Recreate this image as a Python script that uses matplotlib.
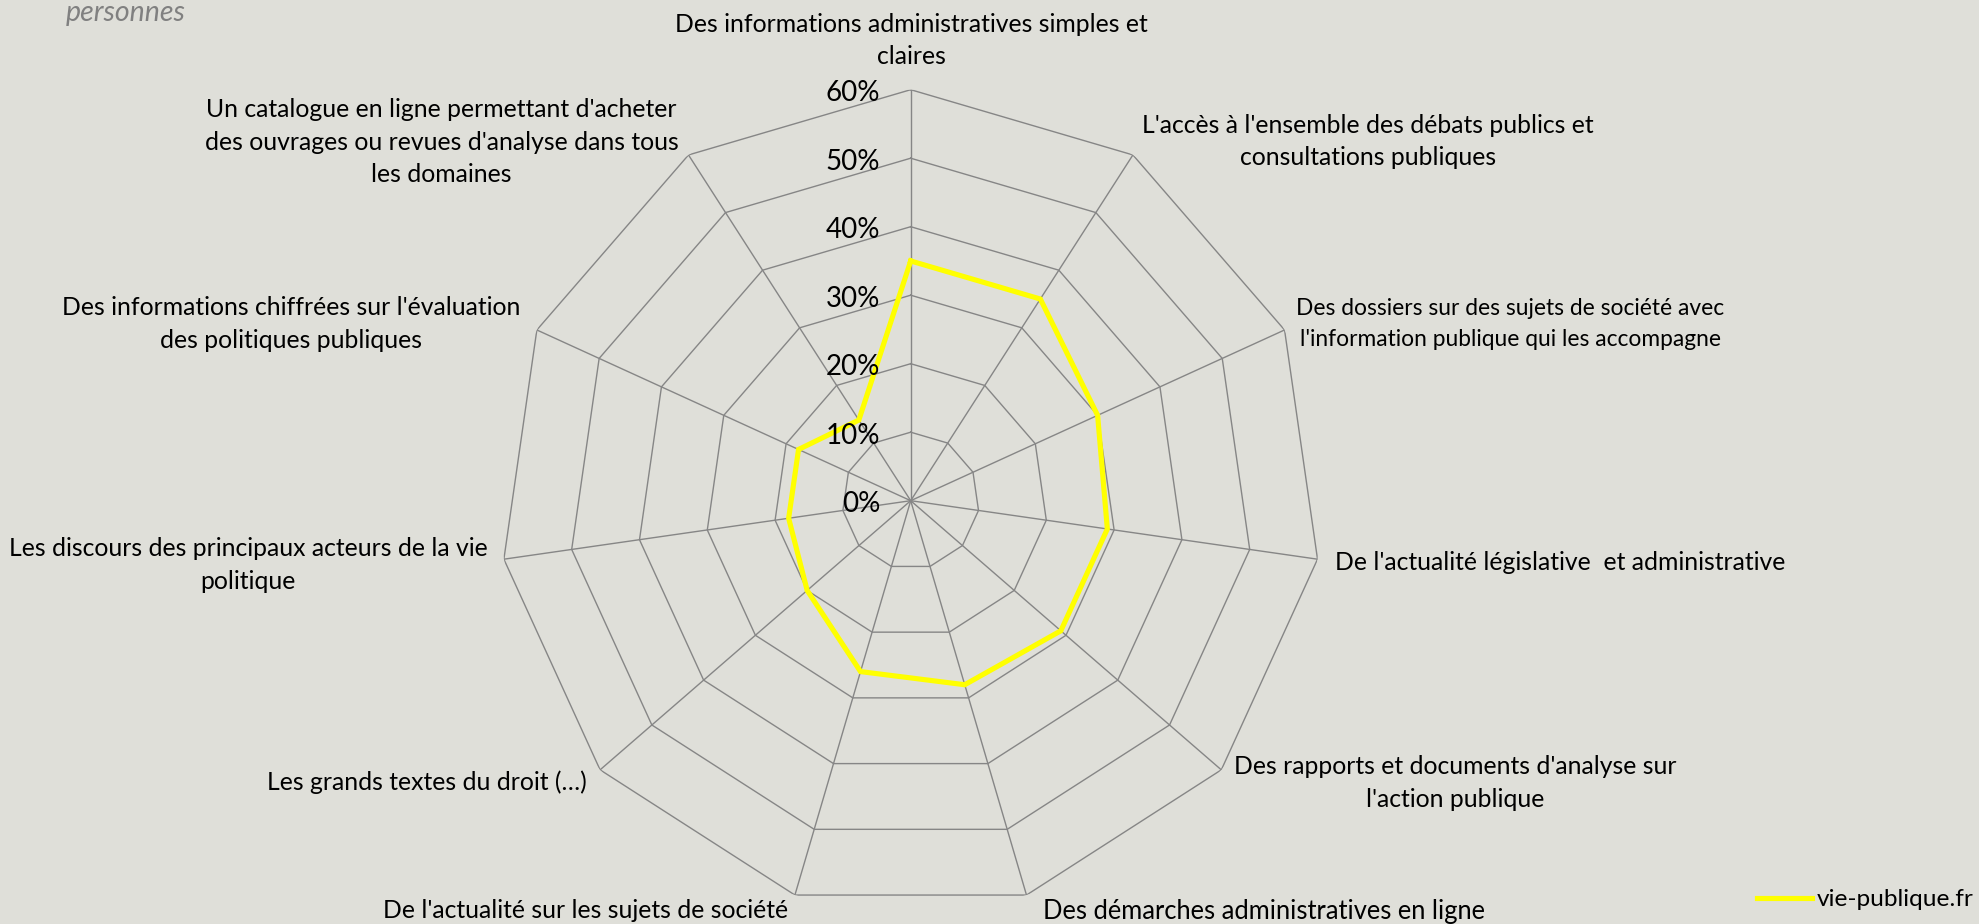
import numpy as np
import matplotlib
matplotlib.use("Agg")
import matplotlib.pyplot as plt

plt.rcParams['font.family'] = ['Lato', 'DejaVu Sans']

# ---- data ----
categories = [
    "Des informations administratives simples et\nclaires",
    "L'accès à l'ensemble des débats publics et\nconsultations publiques",
    "Des dossiers sur des sujets de société avec\nl'information publique qui les accompagne",
    "De l'actualité législative  et administrative",
    "Des rapports et documents d'analyse sur\nl'action publique",
    "Des démarches administratives en ligne",
    "De l'actualité sur les sujets de société",
    "Les grands textes du droit (…)",
    "Les discours des principaux acteurs de la vie\npolitique",
    "Des informations chiffrées sur l'évaluation\ndes politiques publiques",
    "Un catalogue en ligne permettant d'acheter\ndes ouvrages ou revues d'analyse dans tous\nles domaines",
]
values = [0.35, 0.35, 0.30, 0.29, 0.29, 0.28, 0.26, 0.20, 0.18, 0.18, 0.14]
series_name = "vie-publique.fr"
ring_levels = [0.0, 0.1, 0.2, 0.3, 0.4, 0.5, 0.6]
ring_labels = ["0%", "10%", "20%", "30%", "40%", "50%", "60%"]

# label centres in pixels (x, y from top) of a 1979x924 canvas
label_pos = [(911, 40.5), (1368, 141.5), (1510, 324), (1560.5, 562),
             (1455, 783), (1264, 911), (585.6, 911), (426.6, 782),
             (248, 565), (291.5, 324), (441.7, 142)]
label_sizes = [17.8, 17.8, 16.4, 17.8, 17.8, 18.4, 17.8, 17.8, 17.8, 17.8, 17.8]

W, H = 1979, 924
BG = "#DFDFD9"
GRID = "#868686"
YELLOW = "#FFFF00"

fig = plt.figure(figsize=(W / 100, H / 100), dpi=100, facecolor=BG)
cx, cy, R = 910.7, 500.7, 411.0
ax = fig.add_axes([(cx - R) / W, (H - cy - R) / H, 2 * R / W, 2 * R / H],
                  projection='polar')
ax.set_theta_zero_location('N')
ax.set_theta_direction(-1)
ax.set_ylim(0, 0.6)
ax.axis('off')

n = len(categories)
theta = np.arange(n) * 2 * np.pi / n
theta_closed = np.append(theta, theta[0])

for r in ring_levels[1:]:
    ax.plot(theta_closed, [r] * (n + 1), color=GRID, lw=1.0, zorder=1)
for t in theta:
    ax.plot([t, t], [0, ring_levels[-1]], color=GRID, lw=1.0, zorder=1)

vals_closed = values + values[:1]
ax.plot(theta_closed, vals_closed, color=YELLOW, lw=3.7, zorder=3,
        solid_joinstyle='miter')

for r, lab in zip(ring_levels, ring_labels):
    ax.annotate(lab, xy=(0, r), xytext=(-22, -2.5), textcoords='offset points',
                ha='right', va='center', fontsize=20, color='black', zorder=4)

for lab, (x, y), fs in zip(categories, label_pos, label_sizes):
    fig.text(x / W, 1 - y / H, lab, ha='center', va='center', fontsize=fs,
             color='black', linespacing=1.5 * 17.8 / fs, multialignment='center')

fig.text(66 / W, 1 - 13 / H, "personnes", ha='left', va='center', fontsize=20.5,
         color='#808080', style='italic')

# legend
fig.lines.append(plt.Line2D([1757 / W, 1812 / W], [1 - 898 / H, 1 - 898 / H],
                            transform=fig.transFigure, color=YELLOW, lw=3.7))
fig.text(1817 / W, 1 - 899 / H, series_name, ha='left', va='center',
         fontsize=17.6, color='black')

fig.savefig("out.png", dpi=100, facecolor=BG)
